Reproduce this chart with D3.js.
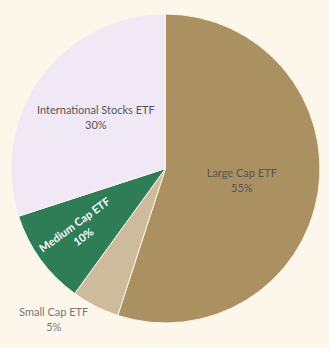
<!DOCTYPE html>
<html><head><meta charset="utf-8">
<script src="https://cdn.jsdelivr.net/npm/d3@7"></script>
<style>html,body{margin:0;padding:0;background:#fdf6ea;}svg{display:block;}</style>
</head><body>
<svg id="c" width="329" height="348"></svg>
<script>
const categories = ["Large Cap ETF", "Small Cap ETF", "Medium Cap ETF", "International Stocks ETF"];
const values = [55, 5, 10, 30];
const colors = ["#ab9161", "#cdbb9b", "#2e7d57", "#f0e8f5"];
const labelColors = ["#555555", "#777777", "#ffffff", "#555555"];

const W = 329, H = 348, cx = 165.5, cy = 168.5, R = 154.5;
const svg = d3.select("#c");
svg.append("rect").attr("width", W).attr("height", H).attr("fill", "#fdf6ea");
const g = svg.append("g").attr("transform", `translate(${cx},${cy})`);
const data = categories.map((c, i) => ({c, v: values[i], i}));
const pie = d3.pie().value(d => d.v).sort(null);
const arcs = pie(data);
const arc = d3.arc().innerRadius(0).outerRadius(R);
g.selectAll("path").data(arcs).join("path")
  .attr("d", arc).attr("fill", d => colors[d.data.i])
  .attr("stroke", "#fdf6ea").attr("stroke-width", 1);

const font = "Lato, 'Source Sans Pro', sans-serif";
const labelRadius = [0.5, 1.1, 0.69, 0.557];
arcs.forEach(a => {
  const i = a.data.i;
  const mid = (a.startAngle + a.endAngle) / 2;
  const r = R * labelRadius[i];
  const rot = i === 2 ? mid * 180 / Math.PI - 270 : 0;
  const outside = i === 1;
  const x = r * Math.sin(mid), y = -r * Math.cos(mid);
  const t = g.append("g").attr("transform", `translate(${x},${y}) rotate(${rot})`);
  const txt = t.append("text").attr("text-anchor", "middle")
    .attr("font-family", font).attr("font-size", 11).attr("fill", labelColors[i]);
  txt.append("tspan").attr("x", 0).attr("y", -4).text(a.data.c);
  txt.append("tspan").attr("x", 0).attr("y", 11).text(a.data.v + "%");
  if (i === 2) txt.attr("font-weight", "bold");
  if (outside) {
    const w = txt.node().getBBox().width;
    txt.attr("transform", `translate(${-w / 2},0)`);
  }
});
</script>
</body></html>
